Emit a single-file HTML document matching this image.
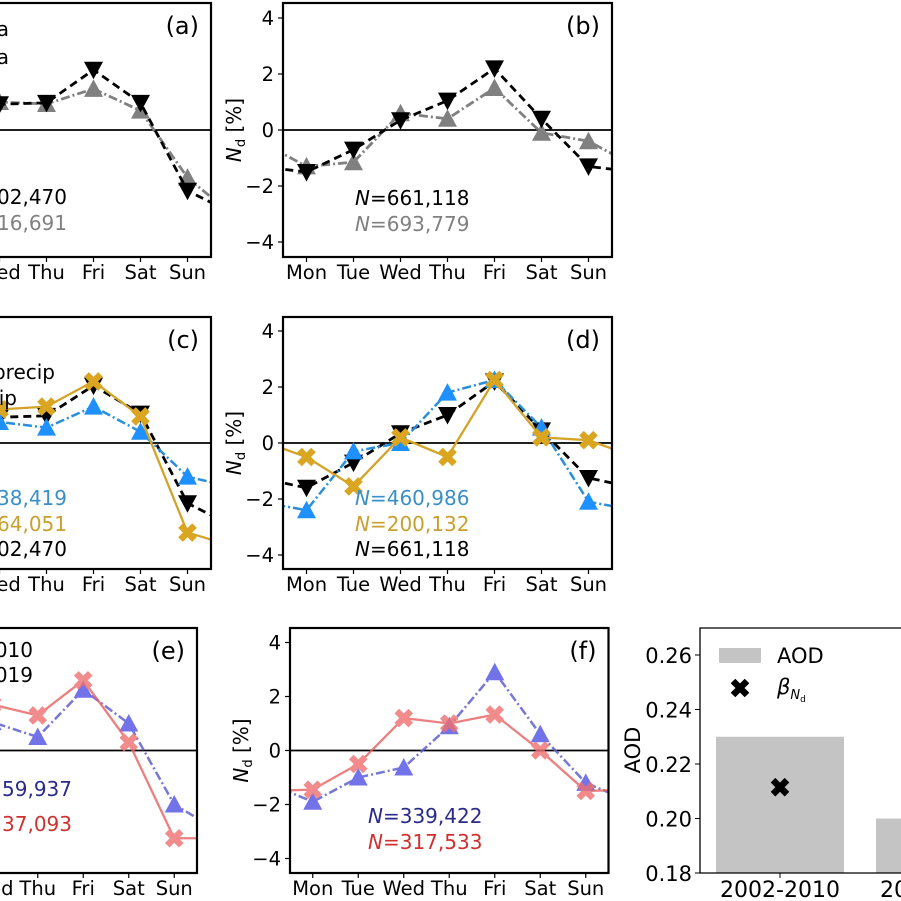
<!DOCTYPE html>
<html><head><meta charset="utf-8">
<style>
html,body{margin:0;padding:0;background:#fff;}
svg{display:block;font-family:"DejaVu Sans","Liberation Sans",sans-serif;}
</style></head>
<body>
<svg id="fig" width="901" height="901" viewBox="0 0 901 901" xmlns="http://www.w3.org/2000/svg"></svg>
<script>
// ---- data ----
const days = ["Mon","Tue","Wed","Thu","Fri","Sat","Sun"];
const yTicks = [4,2,0,-2,-4];
// panel a (Terra / Aqua)
const aBlack = [-3.0,-1.0,0.92,0.97,2.15,0.97,-2.17];
const aGrey  = [-3.1,-0.9,1.0,0.93,1.47,0.69,-1.7];
// panel b
const bBlack = [-1.5,-0.7,0.35,1.05,2.2,0.4,-1.3];
const bGrey  = [-1.3,-1.15,0.6,0.4,1.5,-0.1,-0.4];
// panel c
const cBlue   = [-1.6,-0.6,0.75,0.55,1.3,0.4,-1.2];
const cYellow = [-3.7,-1.0,1.2,1.3,2.2,0.95,-3.2];
const cBlack  = [-3.0,-1.0,0.92,0.97,2.05,1.05,-2.15];
// panel d
const dBlue   = [-2.4,-0.3,0.0,1.8,2.25,0.55,-2.1];
const dYellow = [-0.5,-1.55,0.2,-0.5,2.25,0.2,0.1];
const dBlack  = [-1.6,-0.7,0.35,1.0,2.2,0.45,-1.25];
// panel e
const eBlue = [-3.0,0.0,1.05,0.5,2.25,1.0,-2.0];
const eRed  = [-3.25,0.5,1.7,1.3,2.6,0.3,-3.25];
// panel f
const fBlue = [-1.9,-1.0,-0.63,0.9,2.9,0.6,-1.2];
const fRed  = [-1.45,-0.5,1.2,1.0,1.33,0.0,-1.5];
// panel g (bars)
const periods = ["2002-2010","2011-2019"];
const aodValues = [0.23,0.20];
const betaValues = [0.2115];
const aodTicks = [0.18,0.20,0.22,0.24,0.26];

const NS="http://www.w3.org/2000/svg";
const svg=document.getElementById('fig');
function mk(tag,attrs,parent){const e=document.createElementNS(NS,tag);for(const k in attrs)e.setAttribute(k,attrs[k]);(parent||svg).appendChild(e);return e;}

let clipId=0;
function panel(name,x0,x1,top,bottom,ppu,opts){
  const g=mk('g',{});
  
  
  const zero=(top+bottom)/2;
  const sx=(x1-x0)/7;
  const X=i=>x0+(i+0.5)*sx;
  const Y=v=>zero-v*ppu;
  const cid='clip'+(clipId++);
  const cp=mk('clipPath',{id:cid},g);mk('rect',{x:x0,y:top,width:x1-x0,height:bottom-top},cp);
  const inner=mk('g',{'clip-path':'url(#'+cid+')'},g);
  mk('line',{x1:x0,x2:x1,y1:zero,y2:zero,stroke:'#000','stroke-width':1.8},inner);
  opts.series.forEach(s=>{
    const sg=mk('g',{opacity:s.op||1},inner);
    
    
    const pts=[];
    const vals=s.vals;
    pts.push([X(-1),Y(vals[6])]);
    vals.forEach((v,i)=>pts.push([X(i),Y(v)]));
    pts.push([X(7),Y(vals[0])]);
    const ln=mk('polyline',{points:pts.map(p=>p.join(',')).join(' '),fill:'none',stroke:s.color,'stroke-width':s.lw||2.4,'stroke-dasharray':s.dash||'none'},sg);
    
    
    vals.forEach((v,i)=>{
      const cx=X(i),cy=Y(v);let m;
      if(s.marker==='down'){m=mk('polygon',{points:`${cx-9.5},${cy-8} ${cx+9.5},${cy-8} ${cx},${cy+9.5}`,fill:s.color},sg);}
      else if(s.marker==='up'){m=mk('polygon',{points:`${cx-9.5},${cy+8} ${cx+9.5},${cy+8} ${cx},${cy-9.5}`,fill:s.mcolor||s.color},sg);}
      else {m=mk('path',{d:`M${cx-7},${cy-7}L${cx+7},${cy+7}M${cx+7},${cy-7}L${cx-7},${cy+7}`,stroke:s.mcolor||s.color,'stroke-width':6.5,'stroke-linecap':'butt'},sg);}
      
      
    });
  });
  mk('rect',{x:x0,y:top,width:x1-x0,height:bottom-top,fill:'none',stroke:'#000','stroke-width':2.2},g);
  days.forEach((d,i)=>{
    mk('line',{x1:X(i),x2:X(i),y1:bottom,y2:bottom+5,stroke:'#000','stroke-width':1.2},g);
    const t=mk('text',{x:X(i),y:bottom+22,'text-anchor':'middle','font-size':19.5,fill:'#000'},g);t.textContent=d;
    
    
  });
  if(opts.yaxis){
    yTicks.forEach(v=>{
      mk('line',{x1:x0-5,x2:x0,y1:Y(v),y2:Y(v),stroke:'#000','stroke-width':1.2},g);
      const t=mk('text',{x:x0-9,y:Y(v)+7,'text-anchor':'end','font-size':19.5,fill:'#000'},g);t.textContent=(v<0?'\u2212'+(-v):''+v);
      
      
    });
    const yl=mk('text',{x:0,y:0,transform:`translate(${x0-42},${zero}) rotate(-90)`,'text-anchor':'middle','font-size':20,fill:'#000'},g);
    yl.innerHTML='<tspan font-style="italic">N</tspan><tspan font-size="13" dy="4">d</tspan><tspan dy="-4"> [%]</tspan>';
    
    
  }
  const pl=mk('text',{x:x1-12,y:top+31,'text-anchor':'end','font-size':24,fill:'#000'},g);pl.textContent=opts.label;
  
  
  (opts.texts||[]).forEach(tx=>{
    const t=mk('text',{x:tx.x,y:tx.y,'text-anchor':tx.anchor||'start','font-size':20,fill:tx.color},g);
    t.innerHTML=tx.n?('<tspan font-style="italic">N</tspan>='+tx.t):tx.t;
    
    
  });
  return {X,Y};
}

const blk={color:'#000',dash:'8,5',marker:'down',lw:2.8};
const gry={color:'#808080',dash:'9,3,2,3',marker:'up',lw:2.8};
const blu={color:'#2a8fd8',mcolor:'#1e90ff',dash:'9,3,2,3',marker:'up',lw:2.5};
const yel={color:'#d4a429',mcolor:'#daa520',marker:'x',lw:2.3};
const pblu={color:'#6060d0',mcolor:'#5a5ae6',dash:'9,3,2,3',marker:'up',lw:2.5,op:0.85};
const pred={color:'#e86060',mcolor:'#f07070',marker:'x',lw:2.3,op:0.8};

panel('panel-a',-118,211,3,257,28,{label:'(a)',series:[
  Object.assign({name:'aqua-series',vals:aGrey},gry),Object.assign({name:'terra-series',vals:aBlack},blk)],
  texts:[{x:9,y:36,t:'Terra',anchor:'end',color:'#000',name:'legend-terra'},{x:9,y:64,t:'Aqua',anchor:'end',color:'#000',name:'legend-aqua'},
  {x:67,y:204,t:'602,470',n:1,anchor:'end',color:'#000',name:'n-count-terra'},{x:67,y:230,t:'616,691',n:1,anchor:'end',color:'#808080',name:'n-count-aqua'}]});
panel('panel-b',283,612,3,257,28,{label:'(b)',yaxis:true,series:[
  Object.assign({name:'grey-series',vals:bGrey},gry),Object.assign({name:'black-series',vals:bBlack},blk)],
  texts:[{x:355,y:205,t:'661,118',n:1,color:'#000',name:'n-count-black'},{x:355,y:231,t:'693,779',n:1,color:'#808080',name:'n-count-grey'}]});
panel('panel-c',-118,211,317,569,28,{label:'(c)',series:[
  Object.assign({name:'all-series',vals:cBlack},blk),Object.assign({name:'nonprecip-series',vals:cBlue},blu),Object.assign({name:'precip-series',vals:cYellow},yel)],
  texts:[{x:55,y:379,t:'non-precip',anchor:'end',color:'#000',name:'legend-nonprecip'},{x:17,y:405,t:'precip',anchor:'end',color:'#000',name:'legend-precip'},
  {x:67,y:505,t:'538,419',n:1,anchor:'end',color:'#3a8fc8',name:'n-count-blue'},{x:67,y:531,t:'64,051',n:1,anchor:'end',color:'#c8a030',name:'n-count-yellow'},{x:67,y:556,t:'602,470',n:1,anchor:'end',color:'#000',name:'n-count-black'}]});
panel('panel-d',283,612,317,569,28,{label:'(d)',yaxis:true,series:[
  Object.assign({name:'black-series',vals:dBlack},blk),Object.assign({name:'blue-series',vals:dBlue},blu),Object.assign({name:'yellow-series',vals:dYellow},yel)],
  texts:[{x:355,y:505,t:'460,986',n:1,color:'#3a8fc8',name:'n-count-blue'},{x:355,y:531,t:'200,132',n:1,color:'#c8a030',name:'n-count-yellow'},{x:355,y:556,t:'661,118',n:1,color:'#000',name:'n-count-black'}]});
panel('panel-e',-121.5,197,628,873,27,{label:'(e)',series:[
  Object.assign({name:'early-series',vals:eBlue},pblu),Object.assign({name:'late-series',vals:eRed},pred)],
  texts:[{x:33,y:657,t:'2002-2010',anchor:'end',color:'#000',name:'legend-2002-2010'},{x:33,y:682,t:'2011-2019',anchor:'end',color:'#000',name:'legend-2011-2019'},
  {x:72,y:796,t:'259,937',n:1,anchor:'end',color:'#2a2a8a',name:'n-count-blue'},{x:72,y:831,t:'237,093',n:1,anchor:'end',color:'#d03030',name:'n-count-red'}]});
panel('panel-f',290,608.5,628,873,27,{label:'(f)',yaxis:true,series:[
  Object.assign({name:'early-series',vals:fBlue},pblu),Object.assign({name:'late-series',vals:fRed},pred)],
  texts:[{x:368,y:823,t:'339,422',n:1,color:'#2a2a8a',name:'n-count-blue'},{x:368,y:849,t:'317,533',n:1,color:'#d03030',name:'n-count-red'}]});

(function(){
  const g=mk('g',{});
  
  
  const left=700,top=628,bottom=873,right=960;
  const ymin=0.18,ppu=2725;
  const Y=v=>bottom-(v-ymin)*ppu;
  const Xc=i=>780+i*160;
  aodValues.forEach((v,i)=>{
    const r=mk('rect',{x:Xc(i)-64,y:Y(v),width:128,height:bottom-Y(v),fill:'#c4c4c4'},g);
    
    
    mk('line',{x1:Xc(i),x2:Xc(i),y1:bottom,y2:bottom+5,stroke:'#000','stroke-width':1},g);
    const t=mk('text',{x:Xc(i),y:bottom+24,'text-anchor':'middle','font-size':22,fill:'#000'},g);t.textContent=periods[i];
    
    
  });
  betaValues.forEach((v,i)=>{
    const cx=Xc(i),cy=Y(v);
    const m=mk('path',{d:`M${cx-7},${cy-7}L${cx+7},${cy+7}M${cx+7},${cy-7}L${cx-7},${cy+7}`,stroke:'#000','stroke-width':6.5},g);
    
    
  });
  mk('path',{d:`M${right},${top}H${left}V${bottom}H${right}`,fill:'none',stroke:'#000','stroke-width':1.3},g);
  aodTicks.forEach(v=>{
    mk('line',{x1:left-5,x2:left,y1:Y(v),y2:Y(v),stroke:'#000','stroke-width':1},g);
    const t=mk('text',{x:left-8,y:Y(v)+8,'text-anchor':'end','font-size':21,fill:'#000'},g);t.textContent=v.toFixed(2);
    
    
  });
  const yl=mk('text',{x:0,y:0,transform:'translate(640,750) rotate(-90)','text-anchor':'middle','font-size':21,fill:'#000'},g);yl.textContent='AOD';
  
  
  const lg=mk('g',{},g);
  
  
  const le1=mk('rect',{x:719,y:648,width:42,height:15,fill:'#c4c4c4'},lg);
  
  
  const t1=mk('text',{x:777,y:663,'font-size':21,fill:'#000'},lg);t1.textContent='AOD';
  
  
  const le2=mk('path',{d:'M733,681L747,695M747,681L733,695',stroke:'#000','stroke-width':6.5},lg);
  
  
  const t2=mk('text',{x:777,y:694,'font-size':21,fill:'#000'},lg);
  t2.innerHTML='<tspan font-style="italic">β</tspan><tspan font-size="13" dy="5" font-style="italic">N</tspan><tspan font-size="9" dy="3">d</tspan>';
  
  
})();
</script>
</body></html>
